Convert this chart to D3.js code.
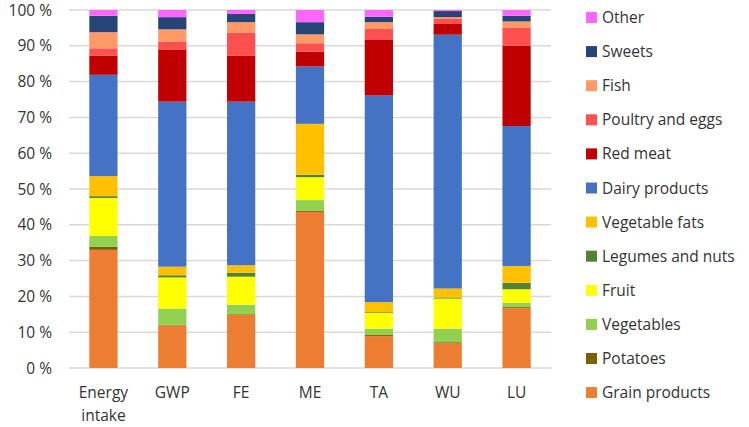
<!DOCTYPE html>
<html><head><meta charset="utf-8">
<script src="https://cdn.jsdelivr.net/npm/d3@7"></script>
<style>body{margin:0;background:#fff}svg{display:block}text{font-family:"Open Sans",sans-serif;fill:#333}</style>
</head><body><svg id="c" width="749" height="427"></svg>
<script>
const categories = ["Energy intake","GWP","FE","ME","TA","WU","LU"];
const seriesNames = ["Grain products","Potatoes","Vegetables","Fruit","Legumes and nuts","Vegetable fats","Dairy products","Red meat","Poultry and eggs","Fish","Sweets","Other"];
const colors = ["#ED7D31","#7F6000","#92D050","#FFFF00","#548235","#FFC000","#4472C4","#C00000","#FF5050","#FF9966","#264478","#FF66FF"];
const grain   = [33.0,11.9,14.8,43.6, 8.9, 6.9,16.7];
const potato  = [ 0.9, 0.2, 0.2, 0.3, 0.3, 0.3, 0.3];
const veg     = [ 3.0, 4.5, 2.7, 3.0, 1.8, 3.8, 1.2];
const fruit   = [10.6, 8.7, 7.8, 6.4, 4.4, 8.4, 3.8];
const legumes = [ 0.5, 0.6, 1.1, 0.7, 0.2, 0.3, 1.8];
const vegfat  = [ 5.6, 2.4, 2.1,14.2, 2.8, 2.5, 4.7];
const dairy   = [28.3,46.1,45.7,16.0,57.7,70.9,39.1];
const redmeat = [ 5.4,14.6,12.9, 4.2,15.7, 3.0,22.4];
const poultry = [ 2.0, 2.2, 6.3, 2.3, 2.9, 1.4, 5.0];
const fish    = [ 4.5, 3.4, 3.0, 2.5, 1.9, 0.5, 1.8];
const sweets  = [ 4.6, 3.4, 2.3, 3.4, 1.5, 1.7, 1.6];
const other   = [ 1.6, 2.0, 1.1, 3.4, 1.9, 0.3, 1.6];
const yTicks  = [0,10,20,30,40,50,60,70,80,90,100];

const values = [grain,potato,veg,fruit,legumes,vegfat,dairy,redmeat,poultry,fish,sweets,other];
const rows = categories.map((c,i)=>{const r={cat:c};seriesNames.forEach((s,j)=>r[s]=values[j][i]);return r;});
rows.forEach(r=>{const t=d3.sum(seriesNames,s=>r[s]);seriesNames.forEach(s=>r[s]=r[s]/t*100);});
const stack = d3.stack().keys(seriesNames)(rows);

const svg = d3.select("#c");
const x = d3.scaleBand().domain(categories).range([69,551]).paddingInner(0.59).paddingOuter(0.295);
const y = d3.scaleLinear().domain([0,100]).range([368,10]);

svg.append("g").selectAll("line").data(yTicks).join("line")
  .attr("x1",69).attr("x2",551).attr("y1",d=>y(d)).attr("y2",d=>y(d))
  .attr("stroke","#d9d9d9").attr("stroke-width",1.5);

svg.append("g").selectAll("text").data(yTicks).join("text")
  .attr("x",52).attr("y",d=>y(d)).attr("dy","0.36em").attr("text-anchor","end")
  .attr("font-size",15.5).text(d=>d+" %");

const g = svg.append("g");
stack.forEach((layer,j)=>{
  g.append("g").attr("fill",colors[j]).selectAll("rect").data(layer).join("rect")
   .attr("x",d=>x(d.data.cat)).attr("width",x.bandwidth())
   .attr("y",d=>y(d[1])).attr("height",d=>y(d[0])-y(d[1]));
});

const xl = svg.append("g");
categories.forEach(c=>{
  const words = c.split(" ");
  const cx = x(c)+x.bandwidth()/2;
  const t = xl.append("text").attr("x",cx).attr("y",398).attr("text-anchor","middle").attr("font-size",15.5);
  words.forEach((w,i)=>t.append("tspan").attr("x",cx).attr("dy",i?23:0).text(w));
});

const leg = svg.append("g");
const legOrder = seriesNames.map((s,j)=>({s,c:colors[j]})).reverse();
leg.selectAll("rect").data(legOrder).join("rect")
  .attr("x",586).attr("y",(d,i)=>12+i*34.1).attr("width",11).attr("height",11).attr("fill",d=>d.c);
leg.selectAll("text").data(legOrder).join("text")
  .attr("x",602).attr("y",(d,i)=>17.5+i*34.1).attr("dy","0.36em").attr("font-size",15.5).text(d=>d.s);
</script></body></html>
